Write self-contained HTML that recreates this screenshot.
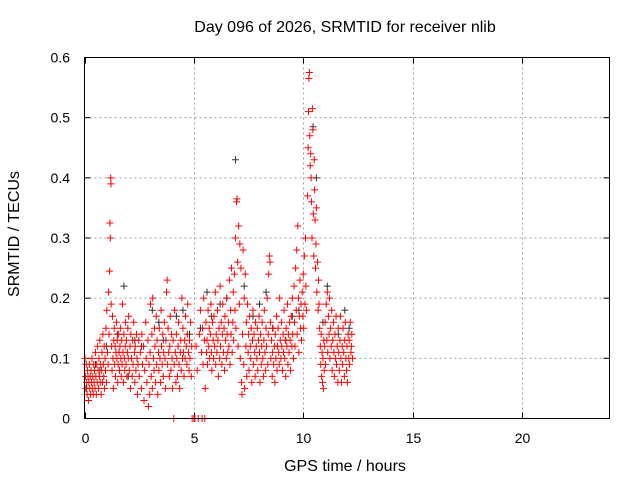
<!DOCTYPE html>
<html><head><meta charset="utf-8"><style>
body{margin:0;background:#fff;}
svg text{font-family:"Liberation Sans",sans-serif;font-size:14px;fill:#000;}
svg text.big{font-size:16px;}
</style></head><body>
<svg width="640" height="480" xmlns="http://www.w3.org/2000/svg">
<g id="grid"></g>
<g id="ticks"></g>
<g id="blackpts"></g>
<g id="redpts"></g>
<rect x="84.5" y="57.5" width="525" height="361" fill="none" stroke="#000" stroke-width="1"/>
<text class="big" x="345" y="32" text-anchor="middle">Day 096 of 2026, SRMTID for receiver nlib</text>
<text class="big" x="345" y="471" text-anchor="middle">GPS time / hours</text>
<text class="big" x="0" y="0" text-anchor="middle" transform="translate(19,234) rotate(-90)">SRMTID / TECUs</text>
</svg>
<script>
const xTicks=[0,5,10,15,20];
const xTickLabels=["0","5","10","15","20"];
const yTicks=[0,0.1,0.2,0.3,0.4,0.5,0.6];
const yTickLabels=["0","0.1","0.2","0.3","0.4","0.5","0.6"];
const blackSeries=[[0.1,.05],[0.5,.09],[0.7,.08],[1.0,.12],[1.5,.14],[1.8,.22],[2.0,.07],[2.3,.13],[2.6,.12],[3.1,.18],[3.4,.16],[3.6,.13],[4.2,.17],[4.5,.18],[4.8,.14],[5.3,.15],[5.6,.21],[5.8,.17],[6.2,.19],[6.5,.20],[6.9,.43],[7.3,.22],[7.7,.17],[8.0,.19],[8.3,.21],[8.6,.15],[9.2,.13],[9.5,.17],[9.8,.18],[10.45,.485],[10.6,.40],[10.9,.16],[11.1,.22],[11.6,.14],[11.9,.18],[12.1,.15]];
const redSeries=[[0.02,.10],[0.04,.07],[0.06,.05],[0.08,.09],[0.1,.06],[0.12,.04],[0.14,.08],[0.16,.07],[0.18,.03],[0.2,.06],[0.22,.09],[0.24,.05],[0.26,.07],[0.28,.04],[0.3,.08],[0.32,.06],[0.34,.10],[0.36,.05],[0.38,.07],[0.4,.04],[0.42,.09],[0.44,.06],[0.46,.08],[0.48,.05],[0.5,.11],[0.52,.07],[0.54,.04],[0.56,.09],[0.58,.06],[0.6,.12],[0.62,.08],[0.64,.05],[0.66,.10],[0.68,.07],[0.7,.13],[0.72,.06],[0.74,.09],[0.76,.04],[0.78,.08],[0.8,.11],[0.82,.06],[0.84,.14],[0.86,.09],[0.88,.07],[0.9,.12],[0.92,.05],[0.94,.10],[0.96,.08],[0.98,.15],[1.0,.06],
[1.02,.18],[1.05,.11],[1.08,.09],[1.1,.21],[1.12,.14],[1.14,.245],[1.16,.325],[1.18,.30],[1.2,.40],[1.21,.39],[1.22,.19],[1.24,.12],[1.26,.08],[1.28,.17],[1.3,.10],[1.32,.05],[1.34,.13],[1.36,.15],[1.38,.09],[1.4,.12],[1.42,.07],[1.44,.11],[1.46,.16],[1.48,.10],[1.5,.13],[1.52,.06],[1.54,.09],[1.56,.14],[1.58,.11],[1.6,.08],[1.62,.12],[1.64,.15],[1.66,.10],[1.68,.07],[1.7,.13],[1.72,.09],[1.74,.19],[1.76,.11],[1.78,.06],[1.8,.14],[1.82,.10],[1.84,.08],[1.86,.12],[1.88,.16],[1.9,.09],[1.92,.13],[1.94,.07],[1.96,.11],[1.98,.15],[2.0,.10],[2.02,.17],[2.05,.08],[2.08,.12],[2.1,.05],[2.12,.14],[2.15,.10],[2.18,.07],[2.2,.13],[2.22,.09],[2.25,.16],[2.28,.11],[2.3,.06],[2.32,.12],[2.35,.08],[2.38,.14],[2.4,.10],[2.42,.04],[2.45,.09],[2.48,.13],
[2.5,.07],[2.55,.11],[2.6,.05],[2.62,.14],[2.65,.09],[2.7,.12],[2.72,.03],[2.75,.08],[2.8,.16],[2.82,.10],[2.85,.06],[2.9,.13],[2.92,.02],[2.95,.09],[2.98,.04],[3.0,.11],[3.02,.19],[3.05,.07],[3.08,.14],[3.1,.05],[3.12,.20],[3.15,.10],[3.18,.08],[3.2,.15],[3.22,.12],[3.25,.06],[3.28,.17],[3.3,.09],[3.32,.13],[3.35,.04],[3.38,.11],[3.4,.08],[3.42,.15],[3.45,.10],[3.48,.06],[3.5,.18],[3.52,.12],[3.55,.09],[3.58,.14],[3.6,.07],[3.62,.11],[3.65,.16],[3.68,.10],[3.7,.05],[3.72,.13],[3.75,.21],[3.78,.23],[3.8,.09],[3.82,.15],[3.85,.11],[3.88,.07],[3.9,.12],[3.92,.17],[3.95,.08],[3.98,.14],[4.0,.10],[4.02,.05],[4.05,.13],[4.08,0],[4.1,.09],[4.12,.18],[4.15,.11],[4.18,.06],[4.2,.14],[4.22,.10],[4.25,.07],[4.28,.12],[4.3,.16],[4.32,.09],[4.35,.05],[4.38,.11],[4.4,.13],[4.42,.08],[4.45,.20],[4.48,.10],
[4.5,.15],[4.52,.11],[4.55,.07],[4.58,.13],[4.6,.10],[4.62,.17],[4.65,.12],[4.68,.09],[4.7,.14],[4.72,.19],[4.75,.11],[4.78,.08],[4.8,.13],[4.82,.10],[4.85,.16],[4.88,.07],[4.9,.12],[4.92,0],[5.0,0],[5.05,0],[5.1,.12],[5.15,.08],[5.2,0],[5.25,.14],[5.3,.18],[5.35,.11],[5.38,0],[5.4,.15],[5.42,.09],[5.45,.20],[5.48,.13],[5.5,0],[5.52,.05],
[5.55,.16],[5.58,.11],[5.6,.13],[5.62,.09],[5.65,.18],[5.68,.12],[5.7,.15],[5.72,.10],[5.75,.14],[5.78,.19],[5.8,.11],[5.82,.08],[5.85,.16],[5.88,.13],[5.9,.10],[5.92,.17],[5.95,.12],[5.98,.21],[6.0,.09],[6.02,.14],[6.05,.11],[6.08,.18],[6.1,.13],[6.12,.07],[6.15,.15],[6.18,.10],[6.2,.22],[6.22,.12],[6.25,.16],[6.28,.09],[6.3,.14],[6.32,.19],[6.35,.11],[6.38,.15],[6.4,.08],[6.42,.17],[6.45,.13],[6.48,.10],[6.5,.20],[6.52,.14],[6.55,.11],[6.58,.16],[6.6,.12],[6.62,.23],[6.65,.09],[6.68,.18],[6.7,.14],[6.72,.25],[6.75,.11],[6.78,.16],
[6.8,.21],[6.82,.13],[6.85,.24],[6.88,.18],[6.9,.30],[6.92,.15],[6.95,.36],[6.97,.365],[7.0,.26],[7.02,.12],[7.05,.32],[7.08,.19],[7.1,.29],[7.12,.10],[7.15,.25],[7.18,.06],[7.2,.04],[7.22,.14],[7.25,.28],[7.28,.09],[7.3,.20],[7.32,.05],[7.35,.24],[7.38,.12],[7.4,.16],[7.42,.07],[7.45,.19],[7.48,.11],
[7.5,.14],[7.52,.08],[7.55,.17],[7.58,.12],[7.6,.10],[7.62,.15],[7.65,.06],[7.68,.13],[7.7,.18],[7.72,.09],[7.75,.14],[7.78,.11],[7.8,.07],[7.82,.16],[7.85,.12],[7.88,.10],[7.9,.15],[7.92,.08],[7.95,.13],[7.98,.17],[8.0,.11],[8.02,.06],[8.05,.14],[8.08,.09],[8.1,.12],[8.12,.16],[8.15,.10],[8.18,.07],[8.2,.13],[8.22,.18],[8.25,.11],[8.28,.08],[8.3,.15],[8.32,.12],[8.35,.20],[8.38,.09],[8.4,.14],[8.42,.24],[8.45,.27],[8.48,.26],[8.5,.16],[8.52,.10],[8.55,.13],[8.58,.07],[8.6,.11],[8.62,.15],[8.65,.09],[8.68,.12],[8.7,.06],[8.72,.14],[8.75,.10],[8.78,.17],[8.8,.08],[8.82,.12],[8.85,.15],[8.88,.11],[8.9,.09],[8.92,.20],[8.95,.13],[8.98,.10],[9.0,.16],[9.02,.12],[9.05,.08],[9.08,.14],[9.1,.11],[9.12,.18],[9.15,.10],[9.18,.13],[9.2,.07],[9.22,.15],[9.25,.12],[9.28,.19],[9.3,.09],[9.32,.14],[9.35,.11],[9.38,.16],[9.4,.13],[9.42,.08],[9.45,.17],[9.48,.12],
[9.5,.20],[9.52,.14],[9.55,.10],[9.58,.22],[9.6,.16],[9.62,.12],[9.65,.25],[9.68,.18],[9.7,.28],[9.72,.14],[9.75,.32],[9.78,.20],[9.8,.11],[9.82,.17],[9.85,.23],[9.88,.15],[9.9,.19],[9.92,.13],[9.95,.21],[9.98,.17],[10.0,.24],[10.02,.15],[10.05,.27],[10.08,.19],[10.1,.30],[10.12,.22],[10.15,.18],
[10.2,.37],[10.22,.45],[10.24,.51],[10.26,.565],[10.28,.575],[10.3,.47],[10.32,.42],[10.34,.44],[10.36,.40],[10.38,.36],[10.4,.30],[10.42,.515],[10.44,.48],[10.46,.34],[10.48,.27],[10.5,.43],[10.52,.38],[10.54,.33],[10.56,.25],[10.58,.29],[10.6,.35],[10.62,.21],[10.65,.26],[10.68,.18],[10.7,.23],[10.72,.19],[10.75,.15],[10.78,.12],
[10.8,.09],[10.82,.14],[10.84,.07],[10.86,.11],[10.88,.06],[10.9,.10],[10.92,.05],[10.94,.13],[10.96,.08],[10.98,.12],
[11.0,.16],[11.02,.09],[11.05,.19],[11.08,.13],[11.1,.21],[11.12,.11],[11.15,.17],[11.18,.14],[11.2,.20],[11.22,.10],[11.25,.15],[11.28,.12],[11.3,.18],[11.32,.08],[11.35,.13],[11.38,.16],[11.4,.11],[11.42,.07],[11.45,.14],[11.48,.10],[11.5,.17],[11.52,.09],[11.55,.12],[11.58,.06],[11.6,.15],[11.62,.11],[11.65,.08],[11.68,.13],[11.7,.17],[11.72,.10],[11.75,.06],[11.78,.12],[11.8,.09],[11.82,.15],[11.85,.11],[11.88,.07],[11.9,.13],[11.92,.16],[11.95,.10],[11.98,.08],[12.0,.12],[12.02,.06],[12.05,.14],[12.08,.10],[12.1,.13],[12.12,.09],[12.15,.16],[12.18,.11],[12.2,.12],[12.22,.14],[12.25,.10]];

const NS="http://www.w3.org/2000/svg";
const X0=84.5,X1=609.5,Y0=418.5,Y1=57.5;
function xs(v){return X0+(v/24)*(X1-X0);}
function ys(v){return Y0-(v/0.6)*(Y0-Y1);}
function mk(tag,attrs,parent){const e=document.createElementNS(NS,tag);for(const k in attrs)e.setAttribute(k,attrs[k]);parent.appendChild(e);return e;}
const grid=document.getElementById('grid'),ticks=document.getElementById('ticks');
xTicks.forEach((t,i)=>{
  const x=Math.round(xs(t))+0.5;
  if(t>0){const g=mk('line',{x1:x,x2:x,y1:Y1,y2:Y0,stroke:'#a0a0a0','stroke-dasharray':'2,3'},grid);
  
  }
  const a=mk('line',{x1:x,x2:x,y1:Y0,y2:Y0-6,stroke:'#000'},ticks);
  
  
  const b=mk('line',{x1:x,x2:x,y1:Y1,y2:Y1+6,stroke:'#000'},ticks);
  
  
  const tx=mk('text',{x:x,y:443,'text-anchor':'middle'},ticks);tx.textContent=xTickLabels[i];
  
  
});
yTicks.forEach((t,i)=>{
  const y=ys(t);
  if(t>0&&t<0.6){const g=mk('line',{x1:X0,x2:X1,y1:y,y2:y,stroke:'#a0a0a0','stroke-dasharray':'2,3'},grid);
  
  }
  const a=mk('line',{x1:X0,x2:X0+6,y1:y,y2:y,stroke:'#000'},ticks);
  
  
  const b=mk('line',{x1:X1,x2:X1-6,y1:y,y2:y,stroke:'#000'},ticks);
  
  
  const tx=mk('text',{x:70,y:y+5,'text-anchor':'end'},ticks);tx.textContent=yTickLabels[i];
  
  
});
function plot(series,g,color){
  series.forEach(p=>{
    const x=xs(p[0]),y=ys(p[1]);
    const e=mk('path',{d:`M${x-3.5},${y}H${x+3.5}M${x},${y-3.5}V${y+3.5}`,stroke:color,'stroke-width':1,fill:'none'},g);
    
    
  });
}
plot(blackSeries,document.getElementById('blackpts'),'#303030');
plot(redSeries,document.getElementById('redpts'),'#ff0000');
</script>
</body></html>
